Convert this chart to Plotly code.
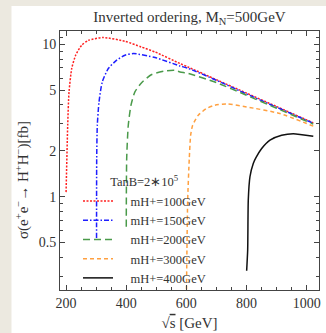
import plotly.graph_objects as go

# ---- data ----
x_100 = [200.2, 205.6, 210, 219, 232, 252, 274, 324, 396, 450, 496, 579, 605, 700, 800, 900, 1022]
y_100 = [1.07, 2.94, 4.87, 6.93, 8.47, 9.85, 10.6, 11.07, 10.46, 9.6, 8.9, 7.47, 7.1, 5.85, 4.78, 3.9, 3.05]

x_150 = [301.5, 302, 304, 309.7, 320.6, 340.6, 368.5, 396, 424, 496, 579, 606, 700, 800, 900, 1022]
y_150 = [0.535, 1.78, 2.94, 4.18, 5.66, 6.93, 7.86, 8.47, 8.69, 8.18, 7.2, 6.95, 5.8, 4.72, 3.86, 3.03]

x_200 = [400.3, 401.7, 407, 416, 429, 453.6, 484.8, 529, 562, 579, 606.5, 700, 800, 900, 1022]
y_200 = [0.634, 1.78, 2.94, 3.98, 4.87, 5.66, 6.33, 6.68, 6.75, 6.58, 6.43, 5.6, 4.63, 3.8, 2.99]

x_300 = [600.2, 602, 604.4, 609.8, 614.4, 621, 639.7, 667.6, 695.2, 734, 800.5, 911, 1022]
y_300 = [0.22, 0.446, 0.95, 1.78, 2.53, 2.94, 3.42, 3.79, 3.98, 4.06, 3.88, 3.51, 2.90]

x_400 = [800.5, 803.9, 805.9, 811.5, 822.5, 831.4, 850.4, 878, 916.8, 955.4, 1022]
y_400 = [0.326, 0.446, 0.948, 1.35, 1.65, 1.80, 2.07, 2.35, 2.53, 2.59, 2.49]

names = ["mH+=100GeV", "mH+=150GeV", "mH+=200GeV", "mH+=300GeV", "mH+=400GeV"]
colors = ["#FF2020", "#1E1EFF", "#4A9A4A", "#FFA040", "#111111"]
dashes = ["2px,1.5px", "5px,2px,1.5px,2px", "7px,4px", "4px,3px", "solid"]

x_ticks = [200, 400, 600, 800, 1000]
y_ticks = [0.5, 1, 2, 5, 10]
y_ticklabels = ["0.5", "1", "2", "5", "10"]
y_minor = [0.3, 0.4, 0.6, 0.7, 0.8, 0.9, 3, 4, 6, 7, 8, 9, 11]

series = [(x_100, y_100), (x_150, y_150), (x_200, y_200), (x_300, y_300), (x_400, y_400)]

W, H = 326, 333
ML, MR, MT, MB = 60, 7, 31, 43
PW, PH = W - ML - MR, H - MT - MB

def px2x(p):
    return (p - ML) / PW

def py2y(p):
    return (H - MB - p) / PH

SERIF = "Liberation Serif"
fig = go.Figure()
for (xs, ys), nm, c, d in zip(series, names, colors, dashes):
    fig.add_trace(go.Scatter(
        x=xs, y=ys, mode="lines", name="\u00a0\u00a0\u00a0\u00a0" + nm,
        line=dict(color=c, width=1.5, dash=d, shape="spline", smoothing=0.6),
    ))

axis_common = dict(
    showline=True, linecolor="#444", linewidth=1, mirror="allticks",
    ticks="inside", ticklen=5, tickcolor="#444", tickwidth=1,
    showgrid=False, zeroline=False, automargin=False,
    tickfont=dict(family=SERIF, size=14, color="#333"),
)

fig.update_xaxes(
    range=[180, 1041], tickvals=x_ticks,
    minor=dict(ticks="inside", ticklen=3, dtick=50, tick0=0, tickcolor="#444", showgrid=False),
    title=dict(text="√<span style='text-decoration:overline'>s</span> [GeV]",
               font=dict(family=SERIF, size=15, color="#333"), standoff=7),
    **axis_common,
)
fig.update_yaxes(
    type="log", range=[-0.613, 1.087], tickvals=y_ticks, ticktext=y_ticklabels,
    minor=dict(ticks="inside", ticklen=3, tickvals=y_minor, tickcolor="#444", showgrid=False),
    **axis_common,
)

fig.update_layout(
    width=W, height=H,
    margin=dict(l=ML, r=MR, t=MT, b=MB, autoexpand=False),
    paper_bgcolor="#ECE9E0", plot_bgcolor="white",
    title=dict(text="Inverted ordering, M<sub>N</sub>=500GeV",
               font=dict(family=SERIF, size=15, color="#333"),
               x=0.5, xref="paper", xanchor="center", y=1 - 16.5 / H, yanchor="middle"),
    showlegend=True,
    legend=dict(
        x=px2x(78), y=py2y(170), xanchor="left", yanchor="top",
        bgcolor="rgba(0,0,0,0)", borderwidth=0,
        font=dict(family=SERIF, size=12.5, color="#333"),
        title=dict(text="TanB=2∗10<sup>5</sup>", side="top center",
                   font=dict(family=SERIF, size=12.5, color="#333")),
        tracegroupgap=0, itemwidth=30,
    ),
    annotations=[dict(
        text="σ(e<sup>+</sup>e<sup>−</sup>→ H<sup>+</sup>H<sup>−</sup>)[fb]",
        xref="paper", yref="paper", x=px2x(22), y=py2y(180),
        xanchor="center", yanchor="middle", textangle=-90, showarrow=False,
        font=dict(family=SERIF, size=15, color="#333"),
    )],
    shapes=[dict(type="rect", xref="paper", yref="paper",
                 x0=px2x(11.5), x1=px2x(W + 2), y0=py2y(H + 2), y1=py2y(6),
                 fillcolor="white", line=dict(width=0), layer="below")],
)

fig.write_html("out.html", config={"displayModeBar": False},
               post_script="document.body.style.margin='0';document.body.style.overflow='hidden';")
